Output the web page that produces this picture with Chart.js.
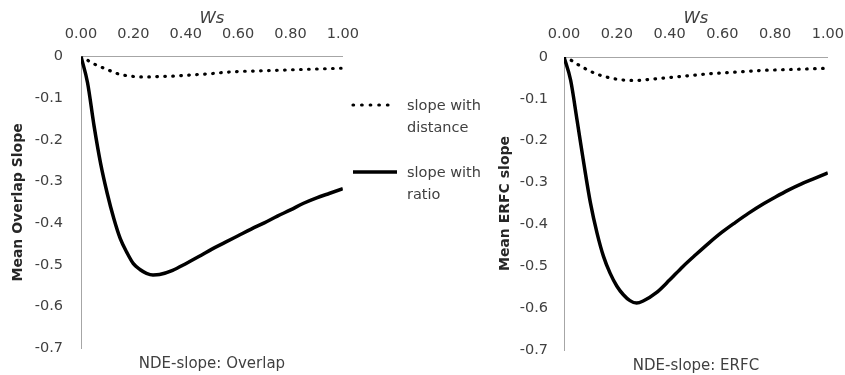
<!DOCTYPE html>
<html>
<head>
<meta charset="utf-8">
<script src="https://cdn.jsdelivr.net/npm/chart.js@4.4.1/dist/chart.umd.min.js"></script>
<style>
  body { margin: 0; background: #fff; width: 845px; height: 375px; position: relative; overflow: hidden; font-family: "DejaVu Sans", sans-serif; }
  canvas { position: absolute; top: 0; }
  #overlapChart { left: 0; }
  #erfcChart { left: 480px; }
  .item { position: absolute; left: 350px; width: 140px; height: 44px; font-size: 14.5px; line-height: 22px; color: #404040; }
  .item svg { position: absolute; left: 0; top: 0; }
  .item span { position: absolute; left: 57px; top: 0; }
</style>
</head>
<body>
<canvas id="overlapChart" width="373" height="375"></canvas>
<canvas id="erfcChart" width="378" height="375"></canvas>

<div class="item" style="top:94px">
  <svg width="50" height="22"><line x1="3" y1="11" x2="46" y2="11" stroke="#000" stroke-width="3.2" stroke-dasharray="0.6 8" stroke-linecap="round"/></svg>
  <span>slope with<br>distance</span>
</div>
<div class="item" style="top:161px">
  <svg width="50" height="22"><line x1="3" y1="11" x2="47" y2="11" stroke="#000" stroke-width="3.5"/></svg>
  <span>slope with<br>ratio</span>
</div>

<script>
// Ws values shared by all series
const wsValues = [0, 0.025, 0.05, 0.075, 0.1, 0.125, 0.15, 0.175, 0.2, 0.225, 0.25, 0.275, 0.3,
  0.35, 0.4, 0.45, 0.5, 0.55, 0.6, 0.65, 0.7, 0.75, 0.8, 0.85, 0.9, 0.95, 1.0];

const overlapDistance = [0, -0.009, -0.018, -0.025, -0.031, -0.038, -0.043, -0.046, -0.048, -0.049, -0.049, -0.049, -0.048,
  -0.047, -0.045, -0.043, -0.041, -0.038, -0.036, -0.035, -0.034, -0.033, -0.032, -0.031, -0.030, -0.029, -0.028];
const overlapRatio = [0, -0.063, -0.167, -0.257, -0.328, -0.388, -0.437, -0.470, -0.497, -0.511, -0.520, -0.524, -0.523,
  -0.513, -0.497, -0.480, -0.462, -0.446, -0.430, -0.414, -0.399, -0.383, -0.368, -0.352, -0.339, -0.328, -0.317];

const erfcDistance = [0, -0.007, -0.017, -0.026, -0.034, -0.041, -0.046, -0.050, -0.053, -0.055, -0.056, -0.056, -0.055,
  -0.052, -0.049, -0.046, -0.043, -0.040, -0.038, -0.036, -0.034, -0.032, -0.031, -0.030, -0.029, -0.028, -0.027];
const erfcRatio = [0, -0.055, -0.153, -0.254, -0.348, -0.420, -0.477, -0.517, -0.547, -0.568, -0.582, -0.588, -0.583,
  -0.563, -0.533, -0.501, -0.472, -0.444, -0.418, -0.395, -0.373, -0.353, -0.335, -0.318, -0.303, -0.290, -0.277];

const seriesNames = ['slope with distance', 'slope with ratio'];

function points(ys) {
  return wsValues.map((x, i) => ({ x: x, y: ys[i] }));
}

function makeChart(id, distance, ratio, yTitle, caption, yWidth, yPad, yTitlePad, top) {
  const ctx = document.getElementById(id).getContext('2d');
  return new Chart(ctx, {
    type: 'line',
    data: {
      datasets: [
        {
          label: seriesNames[0],
          data: points(distance),
          borderColor: '#000',
          borderWidth: 3.2,
          borderDash: [0.6, 7.4],
          borderCapStyle: 'round',
          pointRadius: 0,
          cubicInterpolationMode: 'monotone'
        },
        {
          label: seriesNames[1],
          data: points(ratio),
          borderColor: '#000',
          borderWidth: 3.5,
          pointRadius: 0,
          cubicInterpolationMode: 'monotone'
        }
      ]
    },
    options: {
      responsive: false,
      animation: false,
      devicePixelRatio: 1,
      layout: { padding: 0 },
      plugins: {
        legend: { display: false },
        tooltip: { enabled: false },
        title: {
          display: true,
          text: caption,
          position: 'bottom',
          fullSize: false,
          color: '#404040',
          font: { family: 'DejaVu Sans', size: 15, weight: 'normal' },
          padding: { top: 7, bottom: 0 }
        }
      },
      scales: {
        x: {
          type: 'linear',
          position: 'top',
          min: 0,
          max: 1,
          grid: { display: false, drawTicks: false },
          border: { display: true, color: '#a6a6a6', width: 1 },
          ticks: {
            stepSize: 0.2,
            padding: 14,
            color: '#404040',
            font: { family: 'DejaVu Sans', size: 14.5 },
            callback: v => v.toFixed(2)
          },
          title: {
            display: true,
            text: 'Ws',
            color: '#404040',
            font: { family: 'DejaVu Sans', size: 16.5, style: 'italic' },
            padding: { top: 9, bottom: 0 }
          },
          afterFit: s => { s.height = top; }
        },
        y: {
          min: -0.7,
          max: 0,
          grid: { display: false, drawTicks: false },
          border: { display: true, color: '#a6a6a6', width: 1 },
          ticks: {
            stepSize: 0.1,
            padding: yPad,
            color: '#404040',
            font: { family: 'DejaVu Sans', size: 14.5 },
            callback: v => Math.abs(v) < 1e-9 ? '0' : v.toFixed(1)
          },
          title: {
            display: true,
            text: yTitle,
            color: '#262626',
            font: { family: 'DejaVu Sans', size: 14, weight: 'bold' },
            padding: { top: yTitlePad, bottom: 0 }
          },
          afterFit: s => { s.width = yWidth; }
        }
      }
    }
  });
}

makeChart('overlapChart', overlapDistance, overlapRatio, 'Mean Overlap Slope', 'NDE-slope: Overlap', 81, 18, 9.6, 56.5);
makeChart('erfcChart', erfcDistance, erfcRatio, 'Mean ERFC slope', 'NDE-slope: ERFC', 84, 16, 16.6, 57);
</script>
</body>
</html>
